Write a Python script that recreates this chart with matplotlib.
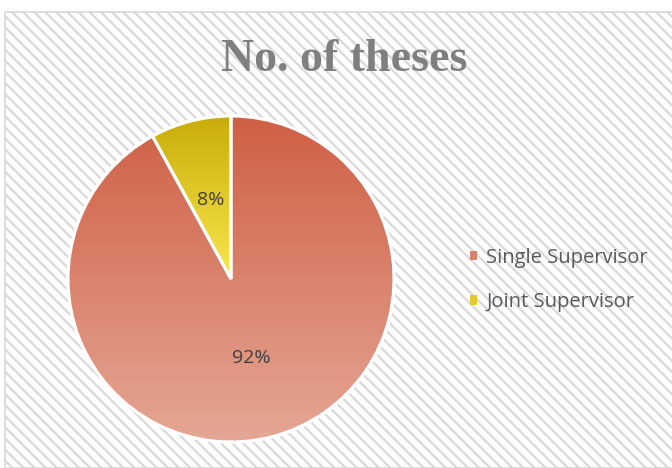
import numpy as np
import matplotlib
matplotlib.use("Agg")
import matplotlib.pyplot as plt
from matplotlib.patches import Rectangle, PathPatch, Patch
from matplotlib.colors import LinearSegmentedColormap, to_rgb, to_hex

# Thesis counts by supervision type (shares in percent)
labels = ["Single Supervisor", "Joint Supervisor"]
shares = [92, 8]
top_colors = ["#cf5f45", "#c8ad0a"]
bottom_colors = ["#e5a795", "#fbe74c"]

W, H, DPI = 672, 468, 100
plt.rcParams["hatch.linewidth"] = 1.6
plt.rcParams["hatch.color"] = "#e4e4e4"

fig = plt.figure(figsize=(W / DPI, H / DPI), dpi=DPI)

# chart area with diagonal stripe fill
bg = Rectangle((5 / W, 0), 1.0, (H - 12) / H, transform=fig.transFigure,
               facecolor="white", edgecolor="#d9d9d9", linewidth=1.2,
               hatch="\\\\\\", zorder=-5)
fig.patches.append(bg)

fig.text(344 / W, 1 - 60 / H, "No. of theses", ha="center", va="center",
         fontsize=33, fontweight="bold", family="Liberation Serif",
         color="#7f7f7f")

# pie axes: centre (231, 279) px, radius 163 px
cx, cy, r, pad = 231, 279, 163, 8
half = r + pad
ax = fig.add_axes([(cx - half) / W, (H - cy - half) / H, 2 * half / W, 2 * half / H])
ax.set_axis_off()

mid_colors = [to_hex((np.array(to_rgb(t)) + np.array(to_rgb(b))) / 2)
              for t, b in zip(top_colors, bottom_colors)]

wedges, texts, autotexts = ax.pie(
    shares, colors=mid_colors, startangle=90, counterclock=False,
    autopct="%d%%", pctdistance=0.5,
    wedgeprops=dict(edgecolor="white", linewidth=2.2),
    textprops=dict(fontsize=14, color="#404040", family="Open Sans"))

# vertical gradient inside each slice
for w, top, bot in zip(wedges, top_colors, bottom_colors):
    path = w.get_path().transformed(w.get_patch_transform())
    x0, y0 = path.vertices.min(axis=0)
    x1, y1 = path.vertices.max(axis=0)
    cmap = LinearSegmentedColormap.from_list("g", [bot, top])
    grad = np.linspace(0, 1, 256).reshape(-1, 1)
    im = ax.imshow(grad, cmap=cmap, origin="lower", extent=[x0, x1, y0, y1],
                   aspect="auto", zorder=2, interpolation="bilinear")
    im.set_clip_path(w)
    ax.add_patch(PathPatch(path, facecolor="none", edgecolor="white",
                           linewidth=2.2, zorder=3))
for t in autotexts:
    t.set_zorder(5)

lim = half / r
ax.set_xlim(-lim, lim)
ax.set_ylim(-lim, lim)

handles = [Patch(facecolor=c, edgecolor="none") for c in mid_colors]
fig.legend(handles, labels, loc="center left", bbox_to_anchor=(452 / W, 1 - 280 / H),
           frameon=False, handlelength=0.35, handleheight=0.35,
           handletextpad=0.45, labelspacing=1.2, labelcolor="#595959",
           prop=dict(family="Open Sans", size=14.5))

fig.savefig("out.png", dpi=DPI)
